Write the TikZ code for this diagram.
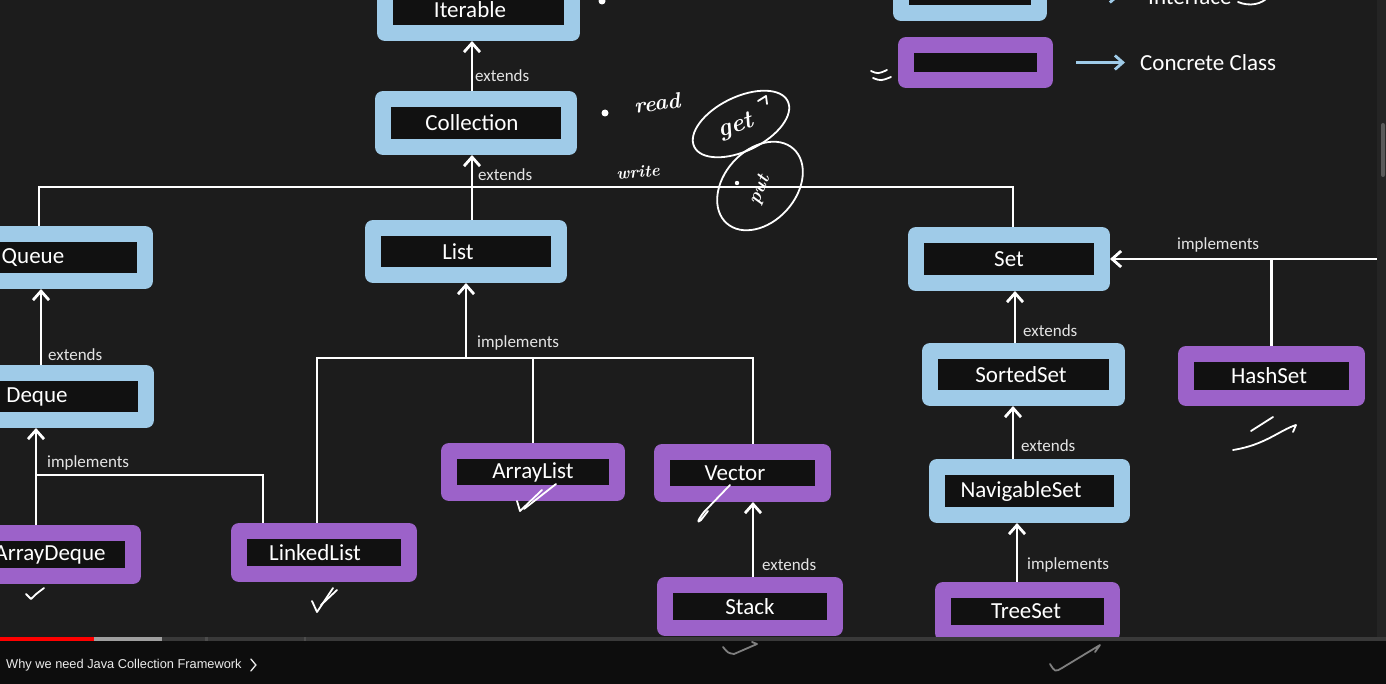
\documentclass[tikz,border=0pt]{standalone}
\usepackage{fontspec}
\setsansfont{Carlito}
\newfontfamily\ytfont{Liberation Sans}
\usetikzlibrary{arrows.meta}
\definecolor{bg}{HTML}{1C1C1C}
\definecolor{inner}{HTML}{111111}
\definecolor{ifc}{HTML}{9FCBE8}
\definecolor{cls}{HTML}{9C62C9}
\definecolor{lbl}{HTML}{E4E4E4}
\definecolor{sbar}{HTML}{242424}
\definecolor{thumb}{HTML}{5A5A5A}
\newcommand\tx[2]{\hspace*{#1pt}#2}
\begin{document}
\begin{tikzpicture}[x=1pt,y=-1pt,
  bx/.style={line width=16pt, line join=round, fill=inner, inner sep=0pt, text=white,
             font=\sffamily\fontsize{23}{27}\selectfont},
  ibox/.style={bx, draw=ifc},
  cbox/.style={bx, draw=cls},
  wire/.style={draw=white, line width=2.8pt},
  arr/.style={wire, -{Straight Barb[length=9pt,width=16pt]}},
  legarr/.style={draw=ifc, line width=2.8pt, -{Straight Barb[length=8pt,width=14pt]}},
  lab/.style={anchor=west, text=lbl, inner sep=0pt, font=\sffamily\fontsize{17}{20}\selectfont},
  hand/.style={draw=white, line width=1.8pt, line cap=round, line join=round},
  hw/.style={text=white, inner sep=0pt, font=\rmfamily\bfseries\itshape\fontsize{22}{24}\selectfont},
]
\useasboundingbox (0,0) rectangle (1386,684);
\clip (0,0) rectangle (1386,684);
\fill[bg] (0,0) rectangle (1386,684);

% ---------- boxes ----------
\node[ibox, minimum width=187, minimum height=47] (iterable) at (478.5,9.5) {\tx{-17}{Iterable}};
\node[ibox, minimum width=186, minimum height=48] (collection) at (476,123) {\tx{-8}{Collection}};
\node[ibox, minimum width=224, minimum height=47] (queue) at (33,257.5) {Queue};
\node[ibox, minimum width=218, minimum height=47] (deque) at (37,396.5) {Deque};
\node[ibox, minimum width=186, minimum height=47] (list) at (466,251.5) {\tx{-16}{List}};
\node[ibox, minimum width=186, minimum height=48] (set) at (1009,259) {Set};
\node[ibox, minimum width=187, minimum height=47] (sortedset) at (1023.5,374.5) {\tx{-5}{SortedSet}};
\node[ibox, minimum width=185, minimum height=48] (navset) at (1029.5,491) {\tx{-17}{NavigableSet}};
\node[cbox, minimum width=171, minimum height=44] (hashset) at (1271.5,376) {\tx{-5}{HashSet}};
\node[cbox, minimum width=168, minimum height=42] (arraylist) at (533,472) {ArrayList};
\node[cbox, minimum width=161, minimum height=42] (vector) at (742.5,473) {\tx{-15}{Vector}};
\node[cbox, minimum width=170, minimum height=43] (linkedlist) at (324,552.5) {\tx{-18}{LinkedList}};
\node[cbox, minimum width=166, minimum height=43] (arraydeque) at (50,554.5) {ArrayDeque};
\node[cbox, minimum width=170, minimum height=43] (stack) at (750,606.5) {Stack};
\node[cbox, minimum width=169, minimum height=43] (treeset) at (1027.5,611.5) {\tx{-3}{TreeSet}};

% legend
\node[ibox, minimum width=138, minimum height=35] (legi) at (970,-4.5) {};
\node[cbox, minimum width=139, minimum height=35] (legc) at (975.5,62.5) {};
\draw[legarr] ([xshift=24]legi.east) -- ++(49,0);
\draw[legarr] ([xshift=23]legc.east) -- ++(49,0);
\node[anchor=base west, inner sep=0pt, text=white, font=\sffamily\fontsize{23}{27}\selectfont] (legitxt) at (1148,5) {Interface};
\node[anchor=west, inner sep=0pt, text=white, font=\sffamily\fontsize{23}{27}\selectfont] (legctxt) at (1140,63) {Concrete Class};

% ---------- connectors ----------
\draw[arr] ([xshift=-4]collection.north) -- ([xshift=-4]collection.north |- iterable.south);
\node[lab] (e1) at (475,76) {extends};

\coordinate (trunk) at (472,187);
\draw[wire] ([xshift=6]queue.north) |- (trunk) -| ([xshift=4]set.north);
\draw[arr] ([xshift=6]list.north) -- ([xshift=6]list.north |- collection.south);
\node[lab] (e2) at (478,175) {extends};

\draw[arr] ([xshift=4]deque.north) -- ([xshift=4]deque.north |- queue.south);
\node[lab] (e3) at (48,355) {extends};

\draw[arr] ([xshift=-14]arraydeque.north) -- ([xshift=-14]arraydeque.north |- deque.south);
\coordinate (dqj) at (36,475);
\draw[wire] (dqj) -| ([xshift=-61]linkedlist.north);
\node[lab] (i1) at (47,463) {implements};

\coordinate (lj) at (466,358);
\draw[arr] (lj) -- (list.south);
\draw[wire] ([xshift=-7]linkedlist.north) |- ([xshift=10.5]vector.north |- lj) -- ([xshift=10.5]vector.north);
\draw[wire] (arraylist.north) -- (arraylist.north |- lj);
\node[lab] (i2) at (477,343) {implements};

\draw[arr] ([xshift=3]stack.north) -- ([xshift=3]stack.north |- vector.south);
\node[lab] (e4) at (762,565) {extends};

\draw[arr] ([xshift=-8.5]sortedset.north) -- ([xshift=-8.5]sortedset.north |- set.south);
\node[lab] (e5) at (1023,331) {extends};
\draw[arr] ([xshift=-16.5]navset.north) -- ([xshift=-16.5]navset.north |- sortedset.south);
\node[lab] (e6) at (1021,446) {extends};
\draw[arr] ([xshift=-10.5]treeset.north) -- ([xshift=-10.5]treeset.north |- navset.south);
\node[lab] (i3) at (1027,565) {implements};

\coordinate (hsr) at (1378,259);
\draw[arr] (hsr) -- (set.east);
\draw[wire] (hashset.north) -- (hashset.north |- set.east);
\node[lab] (i4) at (1177,245) {implements};

% ---------- hand annotations ----------
\fill[white] (602,1) circle (3.5);
\fill[white] (605,113) circle (3.5);
\node[hw, rotate=8] (read) at (657,103) {read};
\node[hw, rotate=5, font=\rmfamily\bfseries\itshape\fontsize{17}{20}\selectfont] (write) at (638,172) {write};
\draw[hand, rotate around={26:(741,124)}] (741,124) ellipse (52 and 27);
\node[hw, rotate=18, font=\rmfamily\bfseries\itshape\fontsize{25}{27}\selectfont] (get) at (736,127) {get};
\draw[hand] (758,101) -- (766,96) -- (767,104);
\draw[hand, rotate around={48:(760,186)}] (760,186) ellipse (50 and 36);
\fill[white] (737,183) circle (2.2);
\node[hw, rotate=68, font=\rmfamily\bfseries\itshape\fontsize{19}{21}\selectfont] (put) at (760,190) {put};
\draw[hand] (871,71) .. controls (878,74) .. (887,70);
\draw[hand] (873,78) .. controls (881,81) .. (891,77);
\draw[hand] (1238,2) .. controls (1250,7) and (1262,4) .. (1268,-3);
% ticks
\draw[hand] (26,594) -- (31,599) .. controls (36,594) .. (44,588);
\draw[hand] (312,601) -- (317,612) -- (333,588);
\draw[hand] (321,605) -- (337,590);
\draw[hand] (517,501) -- (520,511) -- (542,490);
\draw[hand] (524,509) -- (556,484);
\draw[hand] (730,485) -- (704,512) .. controls (698,520) and (696,524) .. (701,520) -- (708,511);
\draw[hand] (1251,431) .. controls (1262,424) .. (1273,417);
\draw[hand] (1233,450) .. controls (1265,445) and (1280,430) .. (1296,425) -- (1293,432);
\draw[hand] (723,647) .. controls (728,653) .. (734,654) -- (757,644) -- (752,642);
\draw[hand] (1050,664) .. controls (1055,672) .. (1062,668) -- (1100,645) -- (1095,652);

% ---------- video player chrome ----------
\fill[black, opacity=0.5] (0,641) rectangle (1386,684);
\fill[black!70] (0,637) rectangle (1386,641);
\fill[red] (0,637) rectangle (94,641);
\fill[gray!75] (94,637) rectangle (162,641);
\fill[gray!45!black] (162,637) rectangle (205,641);
\fill[gray!45!black] (208,637) rectangle (304,641);
\fill[gray!45!black] (306,637) rectangle (1386,641);
\node[anchor=west, inner sep=0pt, text=white!92!black, font=\ytfont\fontsize{12.8}{15}\selectfont] (ttl) at (6,665) {Why we need Java Collection Framework};
\draw[white!92!black, line width=1.3pt, line cap=round] (ttl.east) ++(9,-6) -- ++(5,6) -- ++(-5,6);
\fill[sbar] (1377,0) rectangle (1386,637);
\fill[thumb, rounded corners=2pt] (1381,123) rectangle (1385,177);
\end{tikzpicture}
\end{document}
